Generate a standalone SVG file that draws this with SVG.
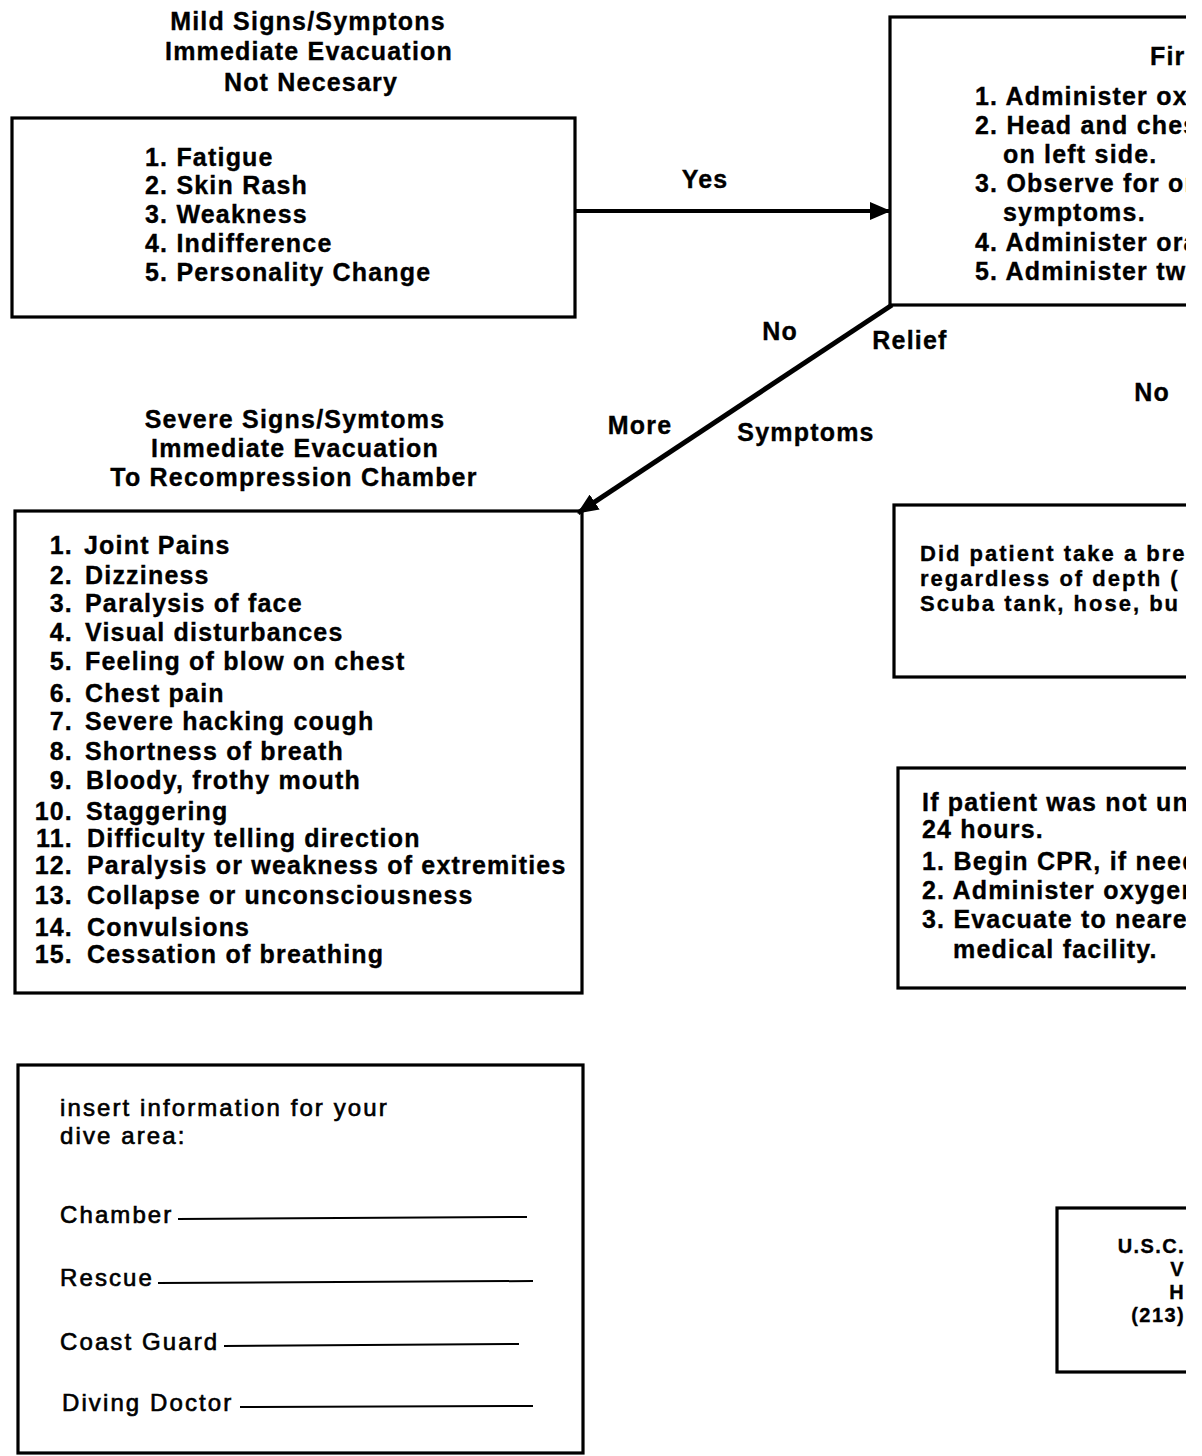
<svg xmlns="http://www.w3.org/2000/svg" width="1202" height="1456" viewBox="0 0 1202 1456">
<style>
.t{font-family:"Liberation Sans",Arial,sans-serif;font-weight:bold;font-size:25px;letter-spacing:1.2px;fill:#000;stroke:#000;stroke-width:0.35}
.c{text-anchor:middle}
.e{text-anchor:end}
.s{font-size:20px;letter-spacing:1.4px;text-anchor:end}
.n{font-size:22px;letter-spacing:2px}
.r{font-family:"Liberation Sans",Arial,sans-serif;font-weight:normal;font-size:24px;letter-spacing:2.1px;fill:#000;stroke:#000;stroke-width:0.65}
.box{fill:none;stroke:#000;stroke-width:3.2}
.ul{stroke:#000;stroke-width:2}
.con{stroke:#000;fill:none}
</style>
<defs>
<clipPath id="pg"><rect x="0" y="0" width="1186" height="1456"/></clipPath>
<marker id="ah" markerUnits="userSpaceOnUse" markerWidth="22" markerHeight="18" refX="20" refY="9" orient="auto">
<path d="M0,0 L21,9 L0,18 Z" fill="#000"/>
</marker>
</defs>
<rect width="1202" height="1456" fill="#fff"/>

<g id="mild">
<text class="t c" x="308" y="30">Mild Signs/Symptons</text>
<text class="t c" x="309" y="60">Immediate Evacuation</text>
<text class="t c" x="311" y="91">Not Necesary</text>
<rect class="box" x="12" y="118" width="563" height="199"/>
<text class="t" x="145" y="166">1. Fatigue</text>
<text class="t" x="145" y="194">2. Skin Rash</text>
<text class="t" x="145" y="223">3. Weakness</text>
<text class="t" x="145" y="252">4. Indifference</text>
<text class="t" x="145" y="281">5. Personality Change</text>
</g>

<g id="firstaid" clip-path="url(#pg)">
<rect class="box" x="890" y="17" width="400" height="288"/>
<text class="t" x="1150" y="65">Fir</text>
<text class="t" x="975" y="105">1. Administer oxy</text>
<text class="t" x="975" y="134">2. Head and ches</text>
<text class="t" x="1003" y="163">on left side.</text>
<text class="t" x="975" y="192">3. Observe for or</text>
<text class="t" x="1003" y="221">symptoms.</text>
<text class="t" x="975" y="251">4. Administer ora</text>
<text class="t" x="975" y="280">5. Administer two</text>
</g>

<g id="severe">
<text class="t c" x="295" y="428">Severe Signs/Symtoms</text>
<text class="t c" x="295" y="457">Immediate Evacuation</text>
<text class="t c" x="294" y="486">To Recompression Chamber</text>
<rect class="box" x="15" y="511" width="567" height="482"/>
<text class="t e" x="73" y="554">1.</text><text class="t" x="84" y="554">Joint Pains</text>
<text class="t e" x="73" y="584">2.</text><text class="t" x="85" y="584">Dizziness</text>
<text class="t e" x="73" y="612">3.</text><text class="t" x="85" y="612">Paralysis of face</text>
<text class="t e" x="73" y="641">4.</text><text class="t" x="85" y="641">Visual disturbances</text>
<text class="t e" x="73" y="670">5.</text><text class="t" x="85" y="670">Feeling of blow on chest</text>
<text class="t e" x="73" y="702">6.</text><text class="t" x="85" y="702">Chest pain</text>
<text class="t e" x="73" y="730">7.</text><text class="t" x="85" y="730">Severe hacking cough</text>
<text class="t e" x="73" y="760">8.</text><text class="t" x="85" y="760">Shortness of breath</text>
<text class="t e" x="73" y="789">9.</text><text class="t" x="86" y="789">Bloody, frothy mouth</text>
<text class="t e" x="73" y="820">10.</text><text class="t" x="86" y="820">Staggering</text>
<text class="t e" x="73" y="847">11.</text><text class="t" x="87" y="847">Difficulty telling direction</text>
<text class="t e" x="73" y="874">12.</text><text class="t" x="87" y="874">Paralysis or weakness of extremities</text>
<text class="t e" x="73" y="904">13.</text><text class="t" x="87" y="904">Collapse or unconsciousness</text>
<text class="t e" x="73" y="936">14.</text><text class="t" x="87" y="936">Convulsions</text>
<text class="t e" x="73" y="963">15.</text><text class="t" x="87" y="963">Cessation of breathing</text>
</g>

<g id="breath" clip-path="url(#pg)">
<rect class="box" x="894" y="505" width="400" height="172"/>
<text class="t n" x="920" y="561">Did patient take a bre</text>
<text class="t n" x="920" y="586">regardless of depth (</text>
<text class="t n" x="920" y="611">Scuba tank, hose, bu</text>
</g>

<g id="notunconscious" clip-path="url(#pg)">
<rect class="box" x="898" y="768" width="400" height="220"/>
<text class="t" x="922" y="811">If patient was not un</text>
<text class="t" x="922" y="838">24 hours.</text>
<text class="t" x="922" y="870">1. Begin CPR, if need</text>
<text class="t" x="922" y="899">2. Administer oxygen</text>
<text class="t" x="922" y="928">3. Evacuate to neares</text>
<text class="t" x="953" y="958">medical facility.</text>
</g>

<g id="uscg" clip-path="url(#pg)">
<rect class="box" x="1057" y="1208" width="300" height="164"/>
<text class="t s" x="1185" y="1253">U.S.C.</text>
<text class="t s" x="1185" y="1276">V</text>
<text class="t s" x="1185" y="1299">H</text>
<text class="t s" x="1185" y="1322">(213)</text>
</g>

<g id="divearea">
<rect class="box" x="18" y="1065" width="565" height="388"/>
<text class="r" x="60" y="1116">insert information for your</text>
<text class="r" x="60" y="1144">dive area:</text>
<text class="r" x="60" y="1223">Chamber</text>
<line class="ul" x1="178" y1="1219" x2="527" y2="1217"/>
<text class="r" x="60" y="1286">Rescue</text>
<line class="ul" x1="158" y1="1283" x2="533" y2="1281"/>
<text class="r" x="60" y="1350">Coast Guard</text>
<line class="ul" x1="224" y1="1346" x2="519" y2="1344"/>
<text class="r" x="62" y="1411">Diving Doctor</text>
<line class="ul" x1="240" y1="1407" x2="533" y2="1406"/>
</g>

<g id="connectors">
<line class="con" x1="575" y1="211" x2="890" y2="211" stroke-width="4" marker-end="url(#ah)"/>
<line class="con" x1="892" y1="305" x2="578" y2="513" stroke-width="5" marker-end="url(#ah)"/>
<text class="t c" x="705" y="188">Yes</text>
<text class="t c" x="780" y="340">No</text>
<text class="t c" x="910" y="349">Relief</text>
<text class="t c" x="640" y="434">More</text>
<text class="t c" x="806" y="441">Symptoms</text>
<text class="t c" x="1152" y="401">No</text>
</g>
</svg>
